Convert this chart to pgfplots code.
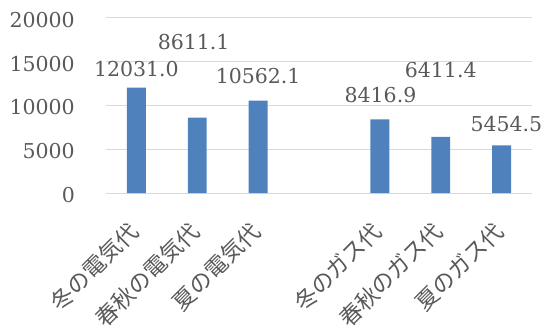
\documentclass[border=0pt]{standalone}
\usepackage{fontspec}
\usepackage{pgfplots}
\pgfplotsset{compat=1.18}
\newfontfamily\numfont{DejaVu Serif}
\newfontfamily\jpfont{Noto Sans CJK JP}
\definecolor{barblue}{HTML}{4F81BD}
\definecolor{txt}{HTML}{595959}
\definecolor{gridc}{HTML}{D9D9D9}
\begin{document}
\begin{tikzpicture}
\begin{axis}[
 scale only axis, width=426pt, height=175pt,
 xmin=-0.5, xmax=6.5, ymin=0, ymax=20000,
 ytick={0,5000,...,20000},
 scaled y ticks=false,
 xtick={0,1,2,4,5,6},
 xticklabels={冬の電気代,春秋の電気代,夏の電気代,冬のガス代,春秋のガス代,夏のガス代},
 axis lines*=left,
 y axis line style={draw=none},
 x axis line style={gridc, line width=1pt},
 ymajorgrids, grid style={gridc, line width=1pt},
 major tick length=0pt,
 /pgf/number format/assume math mode=true,
 /pgf/number format/1000 sep={},
 yticklabel style={font=\fontsize{20.5}{24}\numfont, text=txt, inner sep=0pt, xshift=-31pt, yshift=-2pt},
 xticklabel style={font=\fontsize{22.5}{26}\jpfont, text=txt, inner sep=0pt, xshift=-2pt, yshift=-34pt, rotate=45, anchor=east},
 clip=false,
]
\addplot[ybar, bar width=0.31, fill=barblue, draw=none] coordinates {(0,12031.0) (1,8611.1) (2,10562.1) (4,8416.9) (5,6411.4) (6,5454.5)};
\addplot[draw=none, mark=none, nodes near coords, point meta=explicit symbolic,
 nodes near coords style={anchor=center, font=\fontsize{20.5}{24}\numfont, text=txt, inner sep=0pt}]
 coordinates {(0,14171)[12031.0] (0.94,17200)[8611.1] (2,13371)[10562.1] (4.01,11143)[8416.9] (5,14000)[6411.4] (6.08,7829)[5454.5]};
\end{axis}
\pgfresetboundingbox
\path[use as bounding box] (-106pt,-136pt) rectangle (440pt,193pt);
\end{tikzpicture}
\end{document}
